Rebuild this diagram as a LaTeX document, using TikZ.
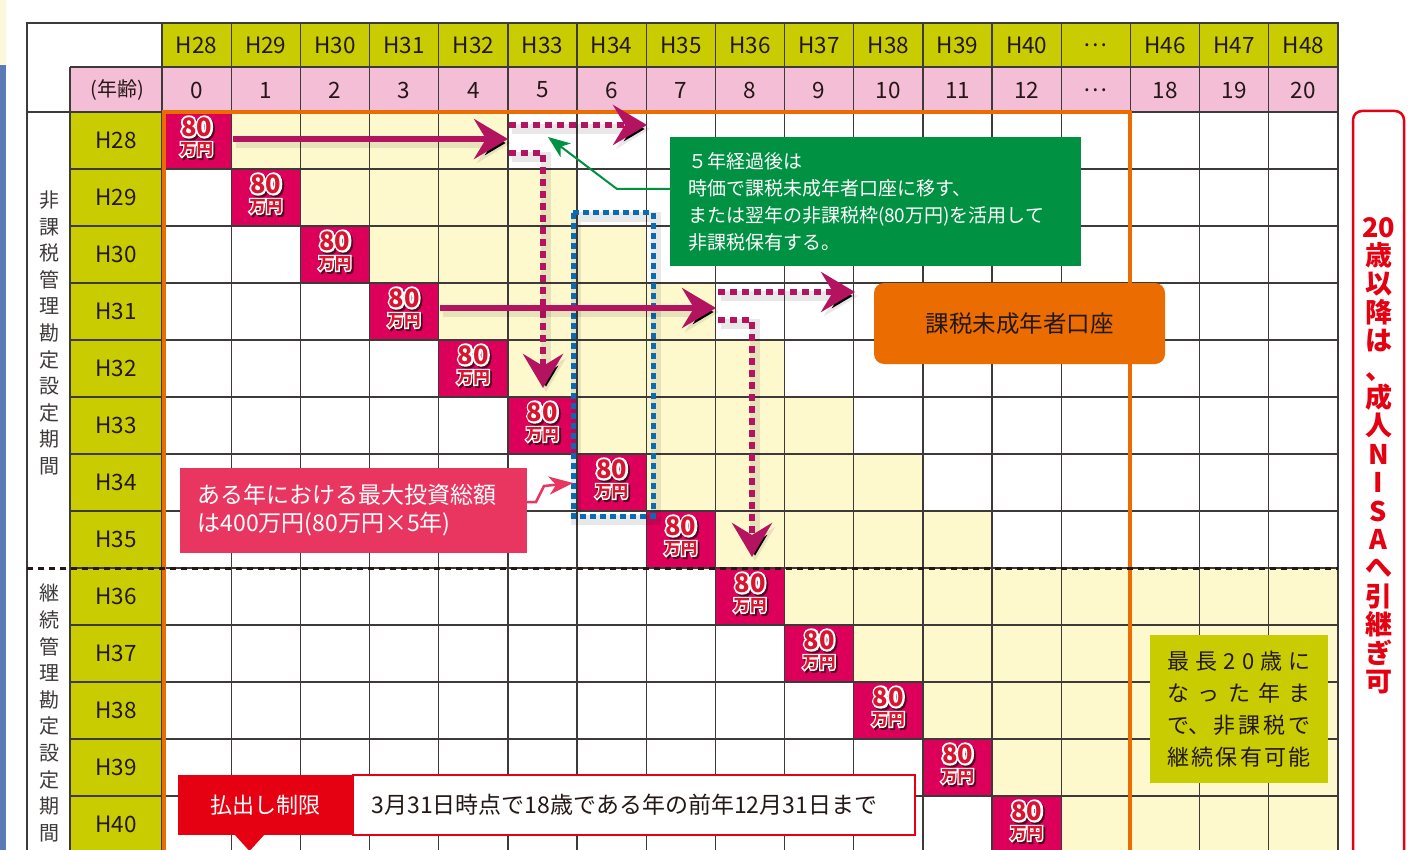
\documentclass[tikz,border=0pt]{standalone}
\usepackage{fontspec}
\setmainfont{Noto Sans CJK JP}
\newfontfamily\outfam{Noto Sans CJK JP}[FakeBold=16]
\usetikzlibrary{arrows.meta}
\definecolor{hdrgreen}{HTML}{C9CC00}
\definecolor{hdrpink}{HTML}{F5BED7}
\definecolor{cellyel}{HTML}{FEF9CD}
\definecolor{badgebg}{HTML}{DC005A}
\definecolor{badgered}{HTML}{D9142E}
\definecolor{badgeshadow}{HTML}{5A0020}
\definecolor{arrowmag}{HTML}{B4145F}
\definecolor{frameor}{HTML}{EB6C00}
\definecolor{boxgreen}{HTML}{009142}
\definecolor{annpink}{HTML}{E83660}
\definecolor{redbox}{HTML}{E50012}
\definecolor{bluedot}{HTML}{0A6AB2}
\definecolor{gridc}{HTML}{3E3A39}
\definecolor{textc}{HTML}{231815}
\definecolor{stripblue}{HTML}{5A7AB8}
\definecolor{stripyel}{HTML}{FCF8DC}
\newcommand\olt[1]{%
  \rlap{\kern1.8pt\raisebox{-2pt}{\outfam\color{badgeshadow}#1}}%
  \rlap{\outfam\color{white}#1}%
  {\color{badgered}#1}}
\tikzset{
  gridl/.style={draw=gridc,line width=1.3pt},
  hdr/.style={font=\fontsize{22.5}{22.5}\selectfont,text=textc,inner sep=0pt},
  b80/.style={font=\bfseries\fontsize{25.5}{25.5}\selectfont,inner sep=0pt},
  bman/.style={font=\bfseries\fontsize{16.5}{16.5}\selectfont,inner sep=0pt},
  vlabel/.style={align=center,font=\fontsize{20}{26.6}\selectfont,text=gridc,inner sep=0pt},
  redv/.style={align=center,font=\bfseries\fontsize{27}{28.4}\selectfont,text=redbox,inner sep=0pt},
  shad/.style={preaction={draw=black,draw opacity=0.09,line width=10pt,solid,transform canvas={xshift=3pt,yshift=-4pt}}},
  magline/.style={draw=arrowmag,line width=6pt,-{Stealth[length=34pt,width=40pt,inset=12pt]}},
  magdots/.style={magline,dash pattern=on 7pt off 5pt},
  bluedots/.style={draw=bluedot,line width=5pt,dash pattern=on 6pt off 4pt},
  gline/.style={draw=boxgreen,line width=2pt,-{Stealth[length=22pt,width=17pt,inset=6pt]}},
  pline/.style={draw=annpink,line width=2.5pt,-{Stealth[length=24pt,width=18pt,inset=7pt]}},
  gbox/.style={fill=boxgreen,text=white,minimum width=411pt,minimum height=129pt,text width=375pt,align=left,inner sep=0pt,font=\fontsize{19}{27}\selectfont},
  obox/.style={fill=frameor,text=textc,minimum width=291pt,minimum height=81pt,rounded corners=10pt,inner sep=0pt,font=\fontsize{23.5}{23.5}\selectfont},
  pbox/.style={fill=annpink,text=white,minimum width=347pt,minimum height=85pt,text width=312pt,align=left,inner sep=0pt,font=\fontsize{23}{28}\selectfont},
  rboxa/.style={fill=redbox,text=white,minimum width=175pt,minimum height=60pt,inner sep=0pt,font=\fontsize{22}{22}\selectfont},
  rboxb/.style={fill=white,draw=redbox,line width=2.5pt,text=textc,minimum width=562pt,minimum height=60pt,text width=525pt,align=left,inner sep=0pt,font=\fontsize{23}{23}\selectfont},
  ybox/.style={fill=hdrgreen,text=textc,minimum width=178pt,minimum height=148pt,align=center,inner sep=0pt,font=\fontsize{22}{32}\selectfont},
}
\begin{document}
\begin{tikzpicture}[x=1pt,y=-1pt]
\useasboundingbox (0,0) rectangle (1420,850);
\clip (0,0) rectangle (1420,850);
\fill[white] (0,0) rectangle (1420,850);
\fill[stripyel] (0,0) rectangle (6,65);
\fill[stripblue] (0,65) rectangle (6,850);
% header fills
\fill[hdrgreen] (162,23) rectangle (1338,67);
\fill[hdrpink] (70,67) rectangle (1338,112);
\fill[hdrgreen] (70,112) rectangle (162,870);
% yellow cells
\foreach \i in {0,...,7}
  \fill[cellyel] ({162+69.176*(\i+1)},{112+57*\i}) rectangle ({162+69.176*(\i+5)},{169+57*\i});
\foreach \i in {8,...,12}
  \fill[cellyel] ({162+69.176*(\i+1)},{112+57*\i}) rectangle (1338,{169+57*\i});
% badge cells
\foreach \i in {0,...,12}
  \fill[badgebg] ({162+69.176*\i},{112+57*\i}) rectangle ({162+69.176*(\i+1)},{169+57*\i});
% grid
\foreach \j in {0,...,16} \draw[gridl] ({162+69.176*\j},23) -- ({162+69.176*\j},870);
\draw[gridl] (70,67) -- (70,870);
\draw[gridl] (70,67) -- (1338,67);
\draw[gridl] (27,112) -- (1338,112);
\foreach \i in {1,...,12} \draw[gridl] (70,{112+57*\i}) -- (1338,{112+57*\i});
\draw[draw=gridc,line width=2.6pt] (27,870) -- (27,23) -- (1338,23) -- (1338,870);
% orange frame
\draw[frameor,line width=4pt] (163.5,870) -- (163.5,112) -- (1130,112) -- (1130,870);
% separator
\draw[textc,line width=3pt,dash pattern=on 6pt off 5pt] (27,568) -- (1338,568);
% header labels
\foreach \t [count=\j from 0] in {H28,H29,H30,H31,H32,H33,H34,H35,H36,H37,H38,H39,H40,…,H46,H47,H48}
  \node[hdr] (yr\j) at ({196.6+69.176*\j},45) {\t};
\foreach \t [count=\j from 0] in {0,1,2,3,4,5,6,7,8,9,10,11,12,…,18,19,20}
  \node[hdr] (ag\j) at ({196.6+69.176*\j},90) {\t};
\node[hdr,font=\fontsize{20}{20}\selectfont] (nenrei) at (117,90) {(年齢)};
\foreach \i in {0,...,12} {
  \pgfmathtruncatemacro\yy{28+\i}
  \node[hdr] (rw\i) at (116,{140.5+57*\i}) {H\yy};
}
% badges
\foreach \i in {0,...,12} {
  \node[b80] (bn\i) at ({196.6+69.176*\i},{128+57*\i}) {\olt{80}};
  \node[bman] (bm\i) at ({196.6+69.176*\i},{150.5+57*\i}) {\olt{万円}};
}
% vertical labels
\node[vlabel] (vl1) at (49,333) {非\\課\\税\\管\\理\\勘\\定\\設\\定\\期\\間};
\node[vlabel] (vl2) at (49,713) {継\\続\\管\\理\\勘\\定\\設\\定\\期\\間};
% right red box
\draw[redbox,line width=2.5pt,rounded corners=9pt] (1353,111) rectangle (1404,890);
\node[redv] (rv) at (1378.5,455.5) {20\\歳\\以\\降\\は\\、\\成\\人\\N\\I\\S\\A\\へ\\引\\継\\ぎ\\可};
% blue dotted window
\draw[bluedots,shad] (573,213) rectangle (653,516);
% arrows
\coordinate (a1s) at (233,139); \coordinate (a1e) at (508,139);
\coordinate (d1s) at (509,125); \coordinate (d1e) at (647,125);
\coordinate (d2s) at (509,153); \coordinate (d2c) at (543,153); \coordinate (d2e) at (543,388);
\coordinate (a2s) at (440,308); \coordinate (a2e) at (716,308);
\coordinate (d3s) at (718,292); \coordinate (d3e) at (855,292);
\coordinate (d4s) at (718,320); \coordinate (d4c) at (752,320); \coordinate (d4e) at (752,557);
\draw[magdots,shad] (d2s) -- (d2c) -- (d2e);
\draw[magdots,shad] (d4s) -- (d4c) -- (d4e);
\draw[magline,shad] (a1s) -- (a1e);
\draw[magline,shad] (a2s) -- (a2e);
\draw[magdots,shad] (d1s) -- (d1e);
\draw[magdots,shad] (d3s) -- (d3e);
% green box
\node[gbox] (gbox) at (875.5,201.5) {５年経過後は\\時価で課税未成年者口座に移す、\\または翌年の非課税枠(80万円)を活用して\\非課税保有する。};
\coordinate (gs) at (670,189); \coordinate (gb) at (617,189); \coordinate (gt) at (548,137);
\draw[gline] (gs) -- (gb) -- (gt);
% orange box
\node[obox] (obox) at (1019.5,323.5) {課税未成年者口座};
% pink annotation
\node[pbox] (pbox) at (353.5,510.5) {ある年における最大投資総額\\は400万円(80万円×5年)};
\coordinate (p1) at (527,502); \coordinate (p2) at (536,502); \coordinate (p3) at (544,486); \coordinate (p4) at (573,483);
\draw[pline] (p1) -- (p2) -- (p3) -- (p4);
% payout limit box
\node[rboxb] (harai2) at (634,805) {3月31日時点で18歳である年の前年12月31日まで};
\node[rboxa] (harai) at (265.5,805) {払出し制限};
\fill[redbox] (234,834) -- (265,834) -- (249.5,851) -- cycle;
% olive box
\node[ybox] (ybox) at (1239,709) {\hbox to 143pt{最\hfil 長\hfil 2\hfil 0\hfil 歳\hfil に}\\\hbox to 143pt{な\hfil っ\hfil た\hfil 年\hfil ま}\\\hbox to 143pt{で、\hfil 非\hfil 課\hfil 税\hfil で}\\\hbox to 143pt{継\hfil 続\hfil 保\hfil 有\hfil 可\hfil 能}};
\end{tikzpicture}
\end{document}
